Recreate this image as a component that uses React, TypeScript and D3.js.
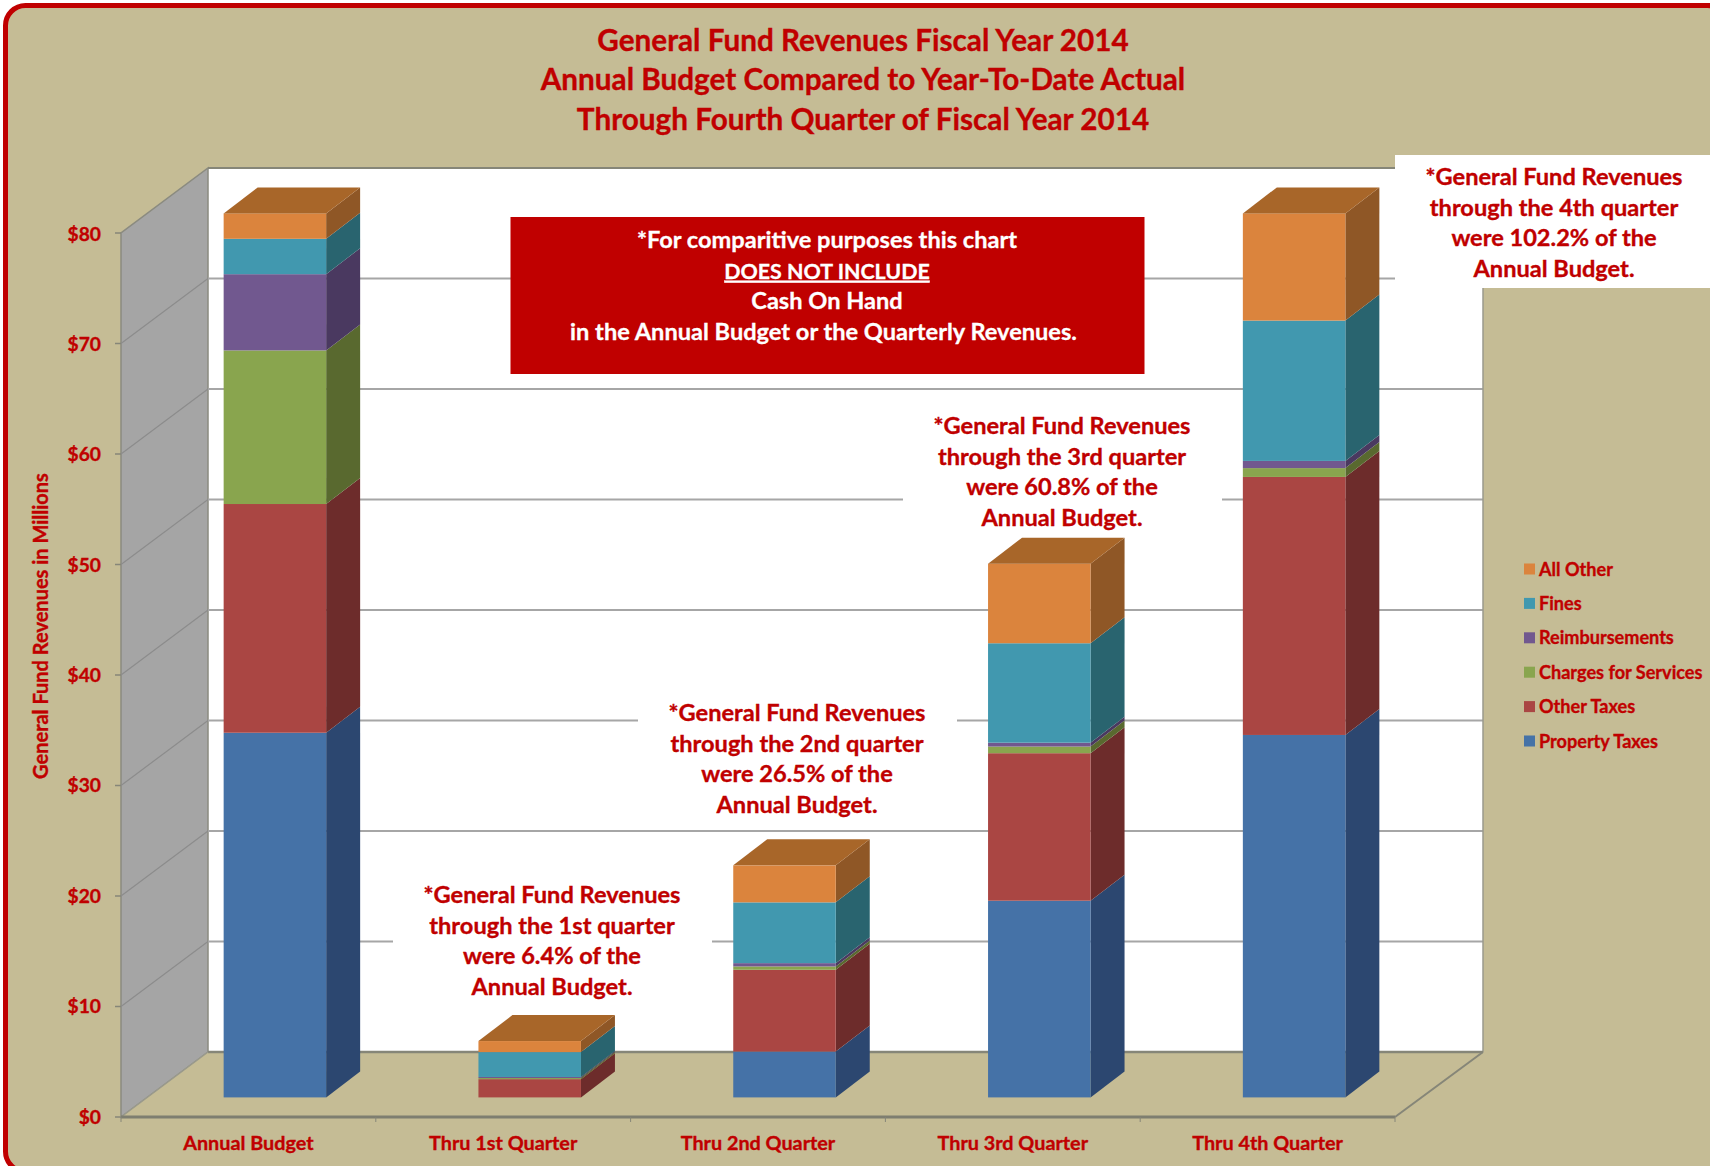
import React from "react";
import * as d3 from "d3";

const categories = ["Annual Budget", "Thru 1st Quarter", "Thru 2nd Quarter", "Thru 3rd Quarter", "Thru 4th Quarter"];
const propertyTaxes = [33.0, 0, 4.15, 17.8, 32.8];
const otherTaxes = [20.7, 1.65, 7.4, 13.35, 23.35];
const charges = [13.9, 0.1, 0.3, 0.6, 0.8];
const reimbursements = [6.9, 0.1, 0.3, 0.35, 0.65];
const fines = [3.2, 2.25, 5.5, 9.0, 12.7];
const allOther = [2.3, 1.0, 3.35, 7.2, 9.7];
const seriesNames = ["Property Taxes", "Other Taxes", "Charges for Services", "Reimbursements", "Fines", "All Other"];
const seriesValues = [propertyTaxes, otherTaxes, charges, reimbursements, fines, allOther];
const frontColors = ["#4572A7", "#AA4643", "#89A54E", "#71588F", "#4198AF", "#DB843D"];
const sideColors = ["#2C4770", "#6D2C2B", "#59692F", "#4A3960", "#29646F", "#8F5726"];
const topColor = "#A86629";
const yTicks = [0, 10, 20, 30, 40, 50, 60, 70, 80];
const titleLines = [
  "General Fund Revenues Fiscal Year 2014",
  "Annual Budget Compared to Year-To-Date Actual",
  "Through Fourth Quarter of Fiscal Year 2014",
];
const noteLines = ["*For comparitive purposes this chart", "DOES NOT INCLUDE", "Cash On Hand", "in the Annual Budget or the Quarterly Revenues."];
const annotations = [
  { lines: ["*General Fund Revenues", "through the 1st quarter", "were 6.4% of the", "Annual Budget."], cx: 552, top: 887, left: 393, right: 712, bottom: 1002 },
  { lines: ["*General Fund Revenues", "through the 2nd quarter", "were 26.5% of the", "Annual Budget."], cx: 797, top: 705, left: 638, right: 957, bottom: 820 },
  { lines: ["*General Fund Revenues", "through the 3rd quarter", "were 60.8% of the", "Annual Budget."], cx: 1062, top: 418, left: 903, right: 1222, bottom: 533 },
];
const q4Lines = ["*General Fund Revenues", "through the 4th quarter", "were 102.2% of the", "Annual Budget."];

const W = 1710, H = 1166;
const RED = "#C00000";
const FONT = "Lato, 'Open Sans', sans-serif";
const BG = "#C5BC95";
const frontLeft = 121, frontRight = 1395;
const wallDx = 87, wallDy = -65;
const barShiftX = 26.5, barShiftY = -19.6;
const depthX = 34, depthY = -26;
const heavy = { fill: RED, stroke: RED, strokeWidth: 0.35 };

const y = d3.scaleLinear().domain([0, 80]).range([1117, 233]);
const x = d3.scaleBand().domain(categories).range([frontLeft, frontRight]);
const barW = 102.5;

const stackRows = categories.map((c, i) => {
  const row: Record<string, number> = {};
  seriesNames.forEach((s, j) => (row[s] = seriesValues[j][i]));
  return row;
});
const stacked = d3.stack().keys(seriesNames)(stackRows as any);
const poly = (pts: number[][]) => d3.line()(pts as any) + "Z";

export default function App() {
  const backX = frontLeft + wallDx, backRight = frontRight + wallDx + 1;
  const bottom = y(0), top = y(80);
  return (
    <svg width={W} height={H} viewBox={`0 0 ${W} ${H}`} style={{ position: "absolute", left: 0, top: 0, display: "block" }} fontFamily={FONT} fontWeight={700}>
      <rect width={W} height={H} fill="#fff" />
      <rect x={5.5} y={5.5} width={1722} height={1166} rx={20} fill={BG} stroke={RED} strokeWidth={5} />

      {titleLines.map((t, i) => (
        <text key={t} x={863} y={50.5 + i * 39.7} textAnchor="middle" fontSize={29.7} {...heavy}>{t}</text>
      ))}

      {/* back wall */}
      <rect x={backX} y={top + wallDy} width={backRight - backX} height={bottom - top} fill="#fff" />
      <path d={poly([[frontLeft, bottom], [backX, bottom + wallDy], [backX, top + wallDy], [frontLeft, top]])} fill="#A5A5A5" stroke="#8B8B80" strokeWidth={1.5} />
      {yTicks.map((t) => (
        <g key={t}>
          {t > 0 && t < 80 && <line x1={frontLeft} x2={backX} y1={y(t)} y2={y(t) + wallDy} stroke="#8C8C8C" strokeWidth={1.2} />}
          {t > 0 && <line x1={backX} x2={backRight} y1={y(t) + wallDy} y2={y(t) + wallDy} stroke={t === 80 ? "#868678" : "#A6A6A6"} strokeWidth={2} />}
          <line x1={frontLeft - 6} x2={frontLeft} y1={y(t)} y2={y(t)} stroke="#868678" strokeWidth={1.5} />
          <text x={101} y={y(t) + 6.6 + (t / 80)} textAnchor="end" fontSize={19.2} {...heavy}>{`$${t}`}</text>
        </g>
      ))}
      <line x1={backRight} x2={backRight} y1={top + wallDy} y2={bottom + wallDy} stroke="#9A9A8C" strokeWidth={1.5} />

      {/* floor */}
      <path d={poly([[frontLeft, bottom], [backX, bottom + wallDy], [backRight, bottom + wallDy], [frontRight, bottom]])} fill={BG} />
      <line x1={backX} x2={backRight} y1={bottom + wallDy} y2={bottom + wallDy} stroke="#868678" strokeWidth={2.5} />
      <line x1={frontLeft} x2={backX} y1={bottom} y2={bottom + wallDy} stroke="#9A9A8C" strokeWidth={1.5} />
      <line x1={frontRight} x2={backRight} y1={bottom} y2={bottom + wallDy} stroke="#868678" strokeWidth={2} />
      <line x1={frontLeft} x2={frontRight} y1={bottom} y2={bottom} stroke="#7E7E70" strokeWidth={3} />
      {[...categories.map((c) => x(c)!), frontRight].map((tx) => (
        <line key={tx} x1={tx} x2={tx} y1={bottom} y2={bottom + 5} stroke="#868678" strokeWidth={1} />
      ))}
      {categories.map((c) => (
        <text key={c} x={x(c)! + x.bandwidth() / 2} y={1150} textAnchor="middle" fontSize={19.8} {...heavy}>{c}</text>
      ))}

      {/* annotation masks */}
      {annotations.map((a) => (
        <rect key={a.cx} x={a.left} y={a.top} width={a.right - a.left} height={a.bottom - a.top} fill="#fff" />
      ))}
      <rect x={1395} y={155} width={315} height={133} fill="#fff" />

      {/* bars */}
      {categories.map((c, i) => {
        const x0 = x(c)! + x.bandwidth() / 2 - barW / 2 + barShiftX;
        const x1 = x0 + barW;
        return (
          <g key={c}>
            {stacked.map((layer, j) => {
              const [v0, v1] = layer[i];
              if (v1 <= v0) return null;
              const yb = y(v0) + barShiftY, yt = y(v1) + barShiftY;
              return (
                <g key={j}>
                  <path d={poly([[x1, yb], [x1 + depthX, yb + depthY], [x1 + depthX, yt + depthY], [x1, yt]])} fill={sideColors[j]} />
                  <rect x={x0} y={yt} width={barW} height={yb - yt} fill={frontColors[j]} />
                </g>
              );
            })}
            {(() => {
              const yt = y(stacked[stacked.length - 1][i][1]) + barShiftY;
              return <path d={poly([[x0, yt], [x0 + depthX, yt + depthY], [x1 + depthX, yt + depthY], [x1, yt]])} fill={topColor} />;
            })()}
          </g>
        );
      })}

      {/* note box */}
      <rect x={510.5} y={217} width={634} height={157} fill={RED} />
      {noteLines.map((t, i) => (
        <text key={t} x={i === 3 ? 823.5 : 827} y={248 + i * 30.6} textAnchor="middle" fontSize={i === 1 ? 21.4 : 23.6} fill="#fff" stroke="#fff" strokeWidth={0.3} textDecoration={i === 1 ? "underline" : undefined}>{t}</text>
      ))}

      {/* annotations */}
      {annotations.map((a) =>
        a.lines.map((t, i) => (
          <text key={t} x={a.cx} y={a.top + 16 + i * 30.6} textAnchor="middle" fontSize={23.6} {...heavy}>{t}</text>
        ))
      )}
      {q4Lines.map((t, i) => (
        <text key={t} x={1554} y={185 + i * 30.6} textAnchor="middle" fontSize={23.6} {...heavy}>{t}</text>
      ))}

      {/* y title */}
      <text transform="translate(48,626) rotate(-90)" textAnchor="middle" fontSize={20} {...heavy}>General Fund Revenues in Millions</text>

      {/* legend */}
      {[...seriesNames].reverse().map((s, i) => {
        const cy = 569 + i * 34.4;
        return (
          <g key={s}>
            <rect x={1524} y={cy - 5.5} width={11} height={11} fill={frontColors[seriesNames.length - 1 - i]} />
            <text x={1539} y={cy + 6.5} fontSize={18.1} {...heavy}>{s}</text>
          </g>
        );
      })}
    </svg>
  );
}
